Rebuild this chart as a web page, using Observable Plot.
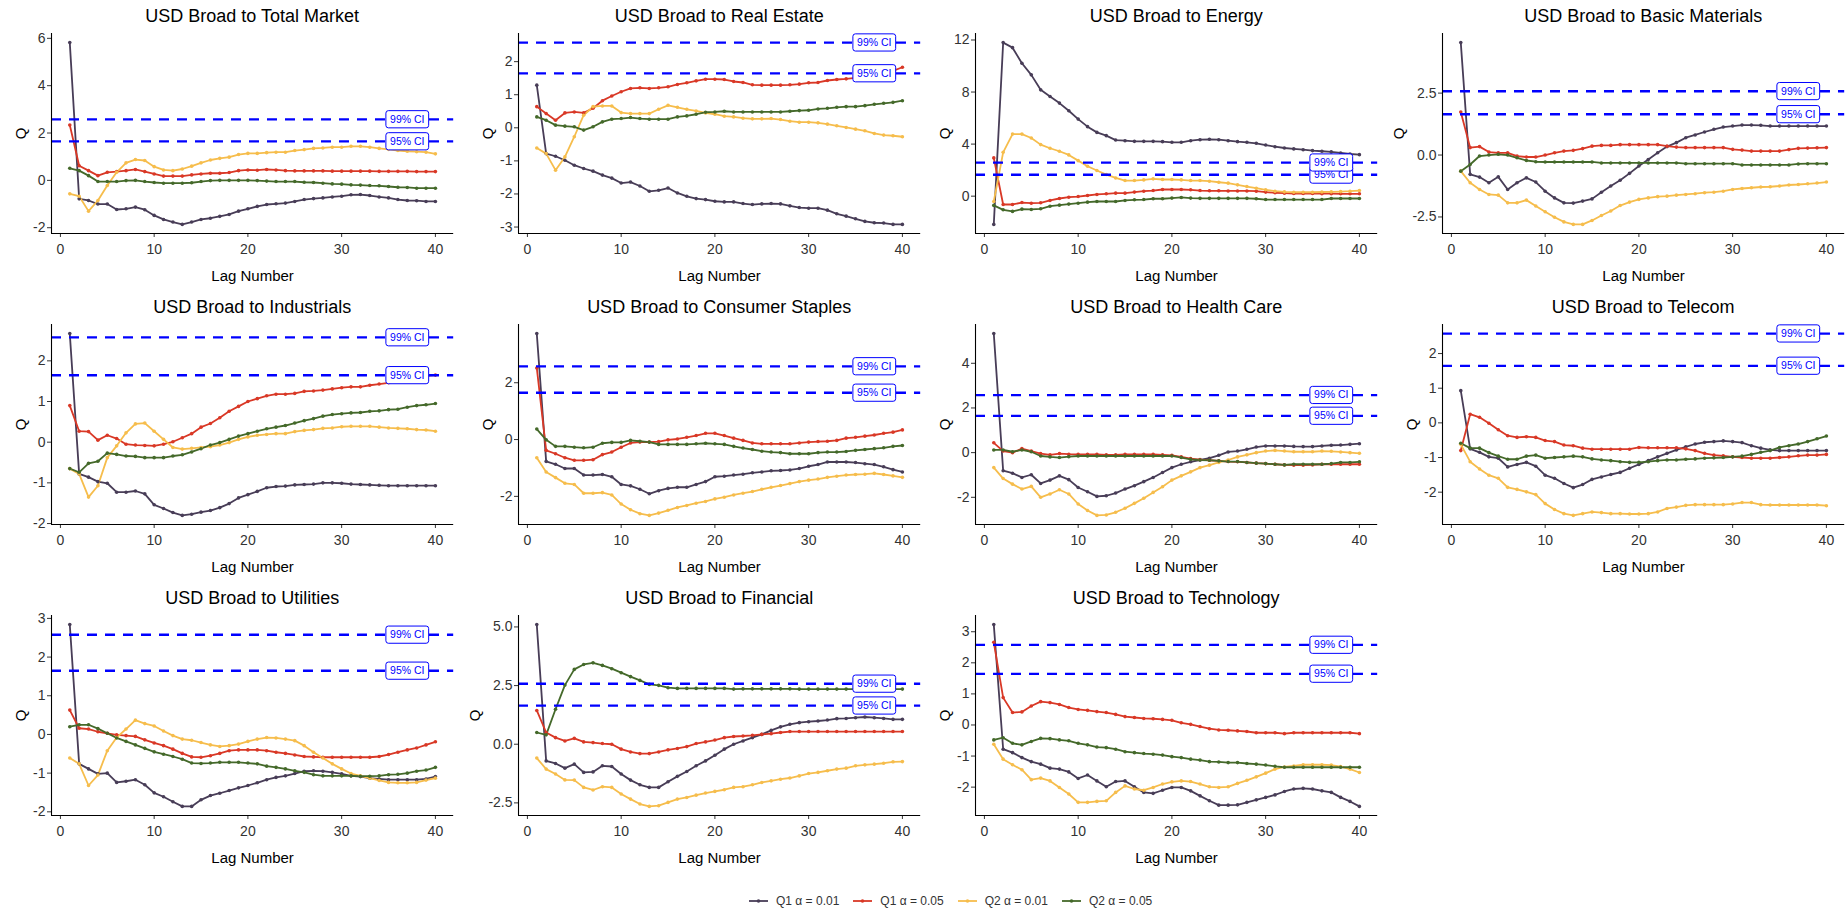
<!DOCTYPE html>
<html><head><meta charset="utf-8">
<script src="https://cdn.jsdelivr.net/npm/d3@7"></script>
<script src="https://cdn.jsdelivr.net/npm/@observablehq/plot@0.6"></script>
<style>
body{margin:0;width:1848px;height:909px;overflow:hidden;background:#fff;font-family:"Liberation Sans",Arial,sans-serif;}
#root{position:relative;width:1848px;height:909px;}
.panel{position:absolute;overflow:visible;}
.ptitle{position:absolute;font-size:18px;line-height:18px;color:#000;white-space:nowrap;transform:translateX(-50%);}
</style></head><body><div id="root"></div>
<script>
// ---------------- data ----------------
const lags = [1,2,3,4,5,6,7,8,9,10,11,12,13,14,15,16,17,18,19,20,21,22,23,24,25,26,27,28,29,30,31,32,33,34,35,36,37,38,39,40];
const seriesNames = ["Q1 α = 0.01","Q1 α = 0.05","Q2 α = 0.01","Q2 α = 0.05"];
const seriesColors = ["#483D57","#D93826","#F6BD4C","#44692A"];
const ciValues = [1.645, 2.576];
const ciLabels = ["95% CI","99% CI"];
const ciLabelLag = 37;
const xTicks = [0,10,20,30,40];
const panelTitles = ["USD Broad to Total Market","USD Broad to Real Estate","USD Broad to Energy","USD Broad to Basic Materials","USD Broad to Industrials","USD Broad to Consumer Staples","USD Broad to Health Care","USD Broad to Telecom","USD Broad to Utilities","USD Broad to Financial","USD Broad to Technology"];

const yTicksTotalMarket = [-2,0,2,4,6];
const yTicksRealEstate = [-3,-2,-1,0,1,2];
const yTicksEnergy = [0,4,8,12];
const yTicksBasicMaterials = [-2.5,0,2.5];
const yTicksIndustrials = [-2,-1,0,1,2];
const yTicksConsumerStaples = [-2,0,2];
const yTicksHealthCare = [-2,0,2,4];
const yTicksTelecom = [-2,-1,0,1,2];
const yTicksUtilities = [-2,-1,0,1,2,3];
const yTicksFinancial = [-2.5,0,2.5,5];
const yTicksTechnology = [-2,-1,0,1,2,3];

const totalMarketQ1a01 = [5.82,-0.78,-0.85,-1.0,-1.0,-1.23,-1.2,-1.13,-1.24,-1.48,-1.65,-1.76,-1.86,-1.76,-1.65,-1.6,-1.52,-1.44,-1.3,-1.2,-1.1,-1.02,-0.99,-0.96,-0.89,-0.81,-0.77,-0.74,-0.7,-0.67,-0.61,-0.6,-0.64,-0.7,-0.74,-0.81,-0.85,-0.86,-0.89,-0.89];
const totalMarketQ1a05 = [2.34,0.62,0.41,0.2,0.34,0.37,0.41,0.46,0.37,0.27,0.18,0.18,0.18,0.23,0.27,0.3,0.3,0.33,0.41,0.44,0.43,0.46,0.44,0.41,0.4,0.4,0.4,0.4,0.39,0.39,0.39,0.39,0.39,0.38,0.38,0.38,0.38,0.37,0.37,0.37];
const totalMarketQ2a01 = [-0.57,-0.67,-1.3,-0.85,-0.22,0.34,0.74,0.88,0.84,0.58,0.44,0.41,0.48,0.6,0.74,0.86,0.93,0.98,1.09,1.14,1.14,1.17,1.19,1.19,1.26,1.3,1.35,1.37,1.4,1.4,1.44,1.44,1.4,1.35,1.31,1.26,1.23,1.21,1.19,1.12];
const totalMarketQ2a05 = [0.51,0.41,0.2,-0.05,-0.05,-0.05,-0.01,0,-0.05,-0.09,-0.12,-0.12,-0.12,-0.1,-0.05,-0.01,0,0,0,0,-0.01,-0.03,-0.05,-0.05,-0.05,-0.08,-0.09,-0.12,-0.15,-0.16,-0.19,-0.2,-0.22,-0.23,-0.26,-0.29,-0.3,-0.33,-0.33,-0.33];

const realEstateQ1a01 = [1.29,-0.78,-0.86,-0.98,-1.13,-1.23,-1.31,-1.43,-1.52,-1.67,-1.64,-1.76,-1.92,-1.89,-1.82,-1.97,-2.07,-2.14,-2.17,-2.22,-2.24,-2.24,-2.29,-2.32,-2.3,-2.29,-2.3,-2.36,-2.41,-2.43,-2.43,-2.49,-2.6,-2.67,-2.75,-2.83,-2.87,-2.88,-2.92,-2.92];
const realEstateQ1a05 = [0.64,0.43,0.23,0.45,0.48,0.45,0.59,0.82,0.96,1.09,1.19,1.21,1.19,1.21,1.24,1.31,1.36,1.42,1.47,1.47,1.46,1.4,1.37,1.3,1.29,1.29,1.29,1.3,1.32,1.36,1.37,1.43,1.46,1.48,1.51,1.56,1.6,1.65,1.72,1.83];
const realEstateQ2a01 = [-0.61,-0.78,-1.28,-0.88,-0.27,0.38,0.64,0.66,0.66,0.46,0.43,0.43,0.43,0.56,0.68,0.62,0.56,0.51,0.45,0.41,0.35,0.33,0.29,0.27,0.27,0.28,0.25,0.2,0.17,0.17,0.15,0.11,0.06,0.01,-0.04,-0.09,-0.17,-0.22,-0.24,-0.27];
const realEstateQ2a05 = [0.33,0.23,0.08,0.05,0.03,-0.07,0.03,0.18,0.26,0.28,0.31,0.28,0.26,0.26,0.26,0.33,0.36,0.41,0.47,0.48,0.5,0.48,0.48,0.48,0.48,0.48,0.48,0.5,0.52,0.53,0.57,0.59,0.62,0.64,0.64,0.67,0.71,0.74,0.77,0.82];

const energyQ1a01 = [-2.17,11.8,11.41,10.21,9.32,8.17,7.66,7.15,6.56,5.92,5.34,4.9,4.65,4.31,4.26,4.21,4.21,4.21,4.19,4.14,4.14,4.26,4.34,4.37,4.34,4.26,4.19,4.14,4.06,3.93,3.8,3.7,3.63,3.57,3.5,3.45,3.4,3.32,3.24,3.19];
const energyQ1a05 = [2.94,-0.64,-0.64,-0.49,-0.54,-0.51,-0.33,-0.18,-0.08,-0.03,0.05,0.13,0.18,0.23,0.23,0.31,0.38,0.43,0.51,0.51,0.51,0.49,0.43,0.41,0.41,0.4,0.4,0.4,0.38,0.31,0.26,0.23,0.2,0.2,0.2,0.19,0.19,0.18,0.18,0.18];
const energyQ2a01 = [-0.41,3.37,4.77,4.77,4.47,3.96,3.68,3.45,3.17,2.73,2.3,1.97,1.66,1.4,1.2,1.2,1.25,1.33,1.28,1.28,1.25,1.2,1.2,1.15,1.07,1.0,0.87,0.74,0.61,0.49,0.38,0.33,0.3,0.3,0.3,0.32,0.33,0.35,0.38,0.43];
const energyQ2a05 = [-0.71,-1.05,-1.17,-1.0,-1.02,-0.97,-0.77,-0.69,-0.61,-0.54,-0.46,-0.41,-0.41,-0.41,-0.33,-0.28,-0.26,-0.2,-0.2,-0.15,-0.1,-0.15,-0.17,-0.17,-0.17,-0.17,-0.17,-0.17,-0.2,-0.26,-0.26,-0.26,-0.26,-0.26,-0.26,-0.26,-0.18,-0.18,-0.18,-0.18];

const basicMaterialsQ1a01 = [4.54,-0.78,-0.89,-1.12,-0.88,-1.39,-1.12,-0.92,-1.09,-1.46,-1.73,-1.93,-1.94,-1.86,-1.77,-1.5,-1.25,-1.02,-0.74,-0.44,-0.18,0.09,0.34,0.5,0.7,0.81,0.93,1.04,1.13,1.17,1.21,1.21,1.2,1.17,1.17,1.17,1.17,1.17,1.17,1.17];
const basicMaterialsQ1a05 = [1.74,0.3,0.34,0.12,0.09,0.09,-0.04,-0.08,-0.08,0,0.09,0.16,0.19,0.26,0.36,0.39,0.39,0.42,0.42,0.42,0.42,0.42,0.36,0.32,0.3,0.3,0.3,0.3,0.3,0.23,0.2,0.16,0.16,0.16,0.16,0.22,0.27,0.28,0.29,0.3];
const basicMaterialsQ2a01 = [-0.65,-1.12,-1.39,-1.59,-1.62,-1.93,-1.93,-1.82,-2.06,-2.29,-2.51,-2.7,-2.8,-2.8,-2.64,-2.44,-2.26,-2.04,-1.9,-1.79,-1.73,-1.68,-1.66,-1.62,-1.59,-1.56,-1.52,-1.5,-1.46,-1.39,-1.35,-1.32,-1.29,-1.28,-1.25,-1.21,-1.19,-1.16,-1.13,-1.09];
const basicMaterialsQ2a05 = [-0.65,-0.38,-0.04,0,0.03,0,-0.11,-0.22,-0.27,-0.28,-0.28,-0.28,-0.28,-0.28,-0.28,-0.32,-0.32,-0.32,-0.32,-0.32,-0.32,-0.32,-0.32,-0.32,-0.35,-0.35,-0.35,-0.35,-0.35,-0.35,-0.4,-0.4,-0.4,-0.4,-0.4,-0.4,-0.36,-0.35,-0.35,-0.35];

const industrialsQ1a01 = [2.67,-0.78,-0.86,-0.97,-1.01,-1.23,-1.23,-1.2,-1.27,-1.54,-1.63,-1.73,-1.8,-1.77,-1.72,-1.68,-1.61,-1.51,-1.37,-1.29,-1.21,-1.12,-1.09,-1.08,-1.05,-1.04,-1.03,-1.0,-1.0,-1.01,-1.03,-1.04,-1.05,-1.06,-1.07,-1.07,-1.07,-1.07,-1.07,-1.07];
const industrialsQ1a05 = [0.9,0.27,0.26,0.05,0.17,0.09,-0.05,-0.07,-0.08,-0.09,-0.05,0.01,0.11,0.21,0.37,0.46,0.6,0.76,0.88,1.0,1.07,1.14,1.18,1.18,1.2,1.25,1.26,1.28,1.31,1.34,1.36,1.36,1.4,1.43,1.46,1.51,1.55,1.59,1.63,1.65];
const industrialsQ2a01 = [-0.65,-0.78,-1.35,-1.07,-0.38,-0.09,0.23,0.45,0.47,0.27,0.07,-0.13,-0.17,-0.15,-0.13,-0.11,-0.07,-0.01,0.07,0.13,0.17,0.19,0.21,0.21,0.26,0.29,0.31,0.34,0.35,0.38,0.39,0.39,0.39,0.37,0.35,0.34,0.33,0.31,0.3,0.27];
const industrialsQ2a05 = [-0.65,-0.74,-0.52,-0.47,-0.27,-0.3,-0.34,-0.35,-0.38,-0.38,-0.38,-0.34,-0.31,-0.24,-0.16,-0.07,-0.01,0.07,0.15,0.21,0.27,0.33,0.37,0.41,0.47,0.53,0.58,0.64,0.68,0.7,0.72,0.73,0.76,0.77,0.8,0.81,0.86,0.9,0.92,0.95];

const consumerStaplesQ1a01 = [3.73,-0.77,-0.87,-1.02,-1.02,-1.25,-1.25,-1.23,-1.31,-1.58,-1.63,-1.75,-1.91,-1.8,-1.72,-1.68,-1.68,-1.58,-1.48,-1.31,-1.29,-1.25,-1.22,-1.17,-1.14,-1.1,-1.09,-1.07,-1.02,-0.94,-0.88,-0.79,-0.79,-0.79,-0.81,-0.85,-0.88,-0.96,-1.06,-1.14];
const consumerStaplesQ1a05 = [2.52,-0.38,-0.5,-0.64,-0.73,-0.73,-0.71,-0.53,-0.44,-0.27,-0.12,-0.09,-0.09,-0.07,-0.01,0.02,0.08,0.14,0.22,0.22,0.14,0.05,-0.03,-0.12,-0.15,-0.15,-0.15,-0.15,-0.12,-0.09,-0.07,-0.06,-0.03,0.05,0.08,0.12,0.16,0.22,0.26,0.34];
const consumerStaplesQ2a01 = [-0.64,-1.14,-1.34,-1.54,-1.58,-1.89,-1.89,-1.87,-1.95,-2.27,-2.47,-2.61,-2.67,-2.59,-2.49,-2.39,-2.32,-2.24,-2.18,-2.09,-2.03,-1.95,-1.89,-1.83,-1.75,-1.68,-1.62,-1.55,-1.48,-1.43,-1.39,-1.33,-1.29,-1.25,-1.23,-1.22,-1.19,-1.23,-1.28,-1.33];
const consumerStaplesQ2a05 = [0.37,-0.01,-0.24,-0.24,-0.27,-0.29,-0.27,-0.13,-0.1,-0.1,-0.03,-0.06,-0.09,-0.17,-0.17,-0.17,-0.17,-0.15,-0.13,-0.15,-0.17,-0.24,-0.3,-0.35,-0.41,-0.44,-0.46,-0.5,-0.5,-0.5,-0.46,-0.44,-0.44,-0.42,-0.38,-0.35,-0.32,-0.29,-0.24,-0.21];

const healthCareQ1a01 = [5.33,-0.81,-0.92,-1.11,-0.99,-1.38,-1.23,-1.04,-1.21,-1.56,-1.75,-1.96,-1.93,-1.81,-1.63,-1.48,-1.3,-1.11,-0.89,-0.67,-0.52,-0.41,-0.33,-0.25,-0.12,0.03,0.07,0.15,0.25,0.3,0.3,0.3,0.28,0.27,0.27,0.3,0.33,0.34,0.37,0.4];
const healthCareQ1a05 = [0.44,0.07,0,0.18,0.07,-0.04,-0.1,-0.04,-0.07,-0.08,-0.08,-0.08,-0.1,-0.1,-0.08,-0.08,-0.08,-0.08,-0.1,-0.12,-0.19,-0.27,-0.31,-0.34,-0.37,-0.4,-0.41,-0.44,-0.47,-0.49,-0.52,-0.55,-0.56,-0.56,-0.55,-0.52,-0.52,-0.52,-0.52,-0.52];
const healthCareQ2a01 = [-0.67,-1.16,-1.41,-1.63,-1.51,-2.0,-1.85,-1.66,-1.85,-2.3,-2.59,-2.81,-2.79,-2.67,-2.49,-2.27,-2.04,-1.78,-1.53,-1.23,-1.04,-0.86,-0.67,-0.56,-0.44,-0.33,-0.19,-0.1,0,0.07,0.1,0.07,0.04,0.04,0.04,0.07,0.06,0.03,0,-0.03];
const healthCareQ2a05 = [0.12,0.12,0.04,0.12,0.04,-0.15,-0.19,-0.22,-0.18,-0.15,-0.15,-0.15,-0.15,-0.15,-0.15,-0.15,-0.15,-0.15,-0.15,-0.15,-0.22,-0.3,-0.33,-0.34,-0.37,-0.4,-0.4,-0.44,-0.47,-0.49,-0.52,-0.55,-0.52,-0.52,-0.52,-0.52,-0.49,-0.44,-0.44,-0.41];

const telecomQ1a01 = [0.93,-0.75,-0.85,-0.98,-1.02,-1.27,-1.2,-1.14,-1.25,-1.51,-1.6,-1.75,-1.87,-1.78,-1.63,-1.56,-1.49,-1.43,-1.31,-1.2,-1.09,-0.98,-0.88,-0.78,-0.69,-0.61,-0.56,-0.54,-0.52,-0.54,-0.57,-0.66,-0.73,-0.78,-0.8,-0.8,-0.8,-0.8,-0.8,-0.8];
const telecomQ1a05 = [-0.8,0.25,0.16,-0.01,-0.2,-0.37,-0.42,-0.4,-0.42,-0.51,-0.54,-0.64,-0.66,-0.73,-0.76,-0.76,-0.76,-0.76,-0.76,-0.71,-0.72,-0.72,-0.72,-0.72,-0.75,-0.8,-0.88,-0.93,-0.95,-0.98,-1.0,-1.02,-1.02,-1.02,-1.0,-0.98,-0.95,-0.93,-0.93,-0.91];
const telecomQ2a01 = [-0.62,-1.12,-1.33,-1.51,-1.6,-1.86,-1.92,-1.99,-2.07,-2.33,-2.5,-2.62,-2.67,-2.62,-2.57,-2.59,-2.62,-2.62,-2.63,-2.63,-2.62,-2.57,-2.47,-2.43,-2.38,-2.36,-2.36,-2.36,-2.36,-2.34,-2.3,-2.3,-2.36,-2.37,-2.37,-2.37,-2.37,-2.37,-2.37,-2.39];
const telecomQ2a05 = [-0.59,-0.73,-0.73,-0.86,-0.96,-1.05,-1.05,-0.96,-0.93,-1.02,-1.0,-0.98,-0.96,-0.98,-1.04,-1.07,-1.09,-1.12,-1.14,-1.14,-1.12,-1.09,-1.07,-1.07,-1.05,-1.04,-1.02,-1.01,-1.0,-0.98,-0.96,-0.91,-0.85,-0.8,-0.71,-0.66,-0.61,-0.54,-0.46,-0.38];

const utilitiesQ1a01 = [2.84,-0.76,-0.89,-1.02,-1.0,-1.24,-1.21,-1.17,-1.3,-1.51,-1.61,-1.74,-1.86,-1.86,-1.69,-1.58,-1.52,-1.45,-1.38,-1.32,-1.25,-1.17,-1.11,-1.07,-1.01,-0.95,-0.94,-0.95,-0.98,-1.02,-1.07,-1.09,-1.13,-1.15,-1.17,-1.17,-1.17,-1.17,-1.15,-1.09];
const utilitiesQ1a05 = [0.63,0.16,0.14,0.07,0.03,-0.01,-0.03,-0.05,-0.14,-0.22,-0.29,-0.38,-0.49,-0.58,-0.59,-0.55,-0.49,-0.42,-0.4,-0.4,-0.4,-0.42,-0.46,-0.49,-0.53,-0.57,-0.58,-0.59,-0.59,-0.59,-0.59,-0.59,-0.59,-0.57,-0.52,-0.46,-0.4,-0.35,-0.27,-0.19];
const utilitiesQ2a01 = [-0.61,-0.76,-1.32,-1.05,-0.42,-0.08,0.14,0.37,0.28,0.22,0.09,-0.03,-0.12,-0.15,-0.21,-0.27,-0.31,-0.29,-0.25,-0.18,-0.12,-0.08,-0.09,-0.12,-0.16,-0.29,-0.46,-0.61,-0.76,-0.89,-1.01,-1.07,-1.13,-1.19,-1.24,-1.25,-1.25,-1.24,-1.18,-1.13];
const utilitiesQ2a05 = [0.2,0.25,0.25,0.15,0.03,-0.09,-0.18,-0.27,-0.36,-0.45,-0.51,-0.57,-0.64,-0.74,-0.75,-0.74,-0.72,-0.72,-0.72,-0.74,-0.76,-0.82,-0.85,-0.89,-0.94,-0.98,-1.04,-1.07,-1.07,-1.07,-1.07,-1.08,-1.08,-1.07,-1.04,-1.03,-1.0,-0.95,-0.92,-0.85];

const financialQ1a01 = [5.1,-0.71,-0.82,-1.02,-0.85,-1.2,-1.18,-0.92,-0.95,-1.27,-1.53,-1.73,-1.84,-1.84,-1.6,-1.37,-1.16,-0.92,-0.71,-0.47,-0.21,0,0.14,0.28,0.42,0.59,0.74,0.85,0.92,0.96,0.99,1.03,1.09,1.1,1.13,1.16,1.13,1.1,1.06,1.06];
const financialQ1a05 = [1.44,0.5,0.28,0.14,0.25,0.1,0.07,0.03,0,-0.21,-0.33,-0.4,-0.4,-0.33,-0.24,-0.18,-0.1,0.03,0.1,0.18,0.28,0.33,0.35,0.38,0.42,0.45,0.5,0.54,0.54,0.54,0.54,0.54,0.54,0.54,0.54,0.54,0.54,0.54,0.54,0.54];
const financialQ2a01 = [-0.59,-1.06,-1.27,-1.52,-1.53,-1.84,-1.95,-1.81,-1.84,-2.12,-2.34,-2.55,-2.65,-2.62,-2.48,-2.34,-2.27,-2.17,-2.08,-2.01,-1.94,-1.84,-1.81,-1.73,-1.63,-1.56,-1.49,-1.44,-1.35,-1.25,-1.2,-1.13,-1.06,-1.02,-0.92,-0.88,-0.85,-0.81,-0.75,-0.74];
const financialQ2a05 = [0.5,0.4,1.49,2.52,3.19,3.4,3.47,3.36,3.22,3.05,2.88,2.72,2.55,2.51,2.41,2.38,2.38,2.38,2.38,2.38,2.38,2.35,2.36,2.36,2.36,2.36,2.36,2.36,2.35,2.35,2.35,2.35,2.35,2.35,2.35,2.35,2.35,2.35,2.35,2.35];

const technologyQ1a01 = [3.23,-0.78,-0.89,-1.05,-1.18,-1.26,-1.39,-1.42,-1.51,-1.72,-1.61,-1.8,-1.99,-1.82,-1.8,-1.99,-2.17,-2.2,-2.1,-2.01,-2.01,-2.12,-2.28,-2.44,-2.58,-2.58,-2.57,-2.49,-2.41,-2.33,-2.25,-2.14,-2.06,-2.04,-2.06,-2.12,-2.17,-2.33,-2.46,-2.62];
const technologyQ1a05 = [2.66,0.88,0.4,0.42,0.61,0.75,0.72,0.66,0.56,0.5,0.47,0.43,0.4,0.34,0.27,0.24,0.21,0.2,0.18,0.15,0.07,0.02,-0.05,-0.12,-0.16,-0.17,-0.19,-0.21,-0.25,-0.25,-0.25,-0.28,-0.25,-0.25,-0.25,-0.25,-0.25,-0.25,-0.25,-0.28];
const technologyQ2a01 = [-0.62,-1.1,-1.28,-1.44,-1.76,-1.71,-1.8,-2.01,-2.22,-2.49,-2.49,-2.46,-2.44,-2.17,-1.96,-2.06,-2.1,-2.01,-1.9,-1.83,-1.8,-1.82,-1.9,-1.99,-2.01,-1.99,-1.88,-1.78,-1.67,-1.55,-1.42,-1.35,-1.32,-1.28,-1.28,-1.28,-1.29,-1.34,-1.42,-1.53];
const technologyQ2a05 = [-0.48,-0.41,-0.59,-0.64,-0.53,-0.43,-0.44,-0.48,-0.51,-0.59,-0.64,-0.71,-0.73,-0.78,-0.86,-0.89,-0.92,-0.94,-0.97,-1.02,-1.05,-1.1,-1.13,-1.18,-1.19,-1.21,-1.21,-1.24,-1.26,-1.29,-1.33,-1.36,-1.36,-1.36,-1.36,-1.36,-1.36,-1.36,-1.36,-1.36];

// ---------------- panel table ----------------
const panels = [
  {title: panelTitles[0], ticks: yTicksTotalMarket, series: [totalMarketQ1a01, totalMarketQ1a05, totalMarketQ2a01, totalMarketQ2a05]},
  {title: panelTitles[1], ticks: yTicksRealEstate, series: [realEstateQ1a01, realEstateQ1a05, realEstateQ2a01, realEstateQ2a05]},
  {title: panelTitles[2], ticks: yTicksEnergy, series: [energyQ1a01, energyQ1a05, energyQ2a01, energyQ2a05]},
  {title: panelTitles[3], ticks: yTicksBasicMaterials, series: [basicMaterialsQ1a01, basicMaterialsQ1a05, basicMaterialsQ2a01, basicMaterialsQ2a05]},
  {title: panelTitles[4], ticks: yTicksIndustrials, series: [industrialsQ1a01, industrialsQ1a05, industrialsQ2a01, industrialsQ2a05]},
  {title: panelTitles[5], ticks: yTicksConsumerStaples, series: [consumerStaplesQ1a01, consumerStaplesQ1a05, consumerStaplesQ2a01, consumerStaplesQ2a05]},
  {title: panelTitles[6], ticks: yTicksHealthCare, series: [healthCareQ1a01, healthCareQ1a05, healthCareQ2a01, healthCareQ2a05]},
  {title: panelTitles[7], ticks: yTicksTelecom, series: [telecomQ1a01, telecomQ1a05, telecomQ2a01, telecomQ2a05]},
  {title: panelTitles[8], ticks: yTicksUtilities, series: [utilitiesQ1a01, utilitiesQ1a05, utilitiesQ2a01, utilitiesQ2a05]},
  {title: panelTitles[9], ticks: yTicksFinancial, series: [financialQ1a01, financialQ1a05, financialQ2a01, financialQ2a05]},
  {title: panelTitles[10], ticks: yTicksTechnology, series: [technologyQ1a01, technologyQ1a05, technologyQ2a01, technologyQ2a05]}
];

// ---------------- layout ----------------
const FONT = '"Liberation Sans", Arial, sans-serif';
const colLeft = [51.1, 518.1, 975.1, 1442.1];
const rowTop = [33.3, 324.3, 615];
const PW = 402.2, PH = 200, ML = 62, MR = 6, MT = 12, MB = 56;
const root = document.getElementById("root");

panels.forEach((p, i) => {
  const col = i % 4, row = Math.floor(i / 4);
  const rows = [];
  p.series.forEach((vals, s) => vals.forEach((v, k) => rows.push({lag: lags[k], value: v, series: seriesNames[s]})));
  const [y0, y1] = d3.extent(rows.map(d => d.value).concat(ciValues));
  const yDom = [y0 - 0.05 * (y1 - y0), y1 + 0.05 * (y1 - y0)];
  const [x0, x1] = d3.extent(lags);
  const xDom = [x0 - 0.05 * (x1 - x0), x1 + 0.05 * (x1 - x0)];
  const decimals = p.ticks.some(t => !Number.isInteger(t));
  const fmt = t => decimals ? t.toFixed(1) : String(t);
  const maxLen = d3.max(p.ticks, t => fmt(t).length);
  const qOffset = 17 + 6.5 * maxLen;
  const labelRows = ciValues.map((v, j) => ({lag: ciLabelLag, value: v, label: ciLabels[j]}));

  const svg = Plot.plot({
    width: PW + ML + MR, height: PH + MT + MB,
    marginLeft: ML, marginRight: MR, marginTop: MT, marginBottom: MB,
    style: {fontFamily: FONT, fontSize: "14px", color: "#333", background: "transparent", overflow: "visible"},
    x: {domain: xDom, ticks: xTicks, tickSize: 4, tickPadding: 6.5, tickFormat: d => String(d), label: null},
    y: {domain: yDom, ticks: p.ticks, tickSize: 4, tickPadding: 2, tickFormat: fmt, label: null},
    color: {domain: seriesNames, range: seriesColors},
    marks: [
      Plot.line(rows, {x: "lag", y: "value", z: "series", stroke: "series", strokeWidth: 1.8}),
      Plot.dot(rows, {x: "lag", y: "value", fill: "series", r: 1.8}),
      Plot.ruleY(ciValues, {stroke: "blue", strokeWidth: 2.4, strokeDasharray: "10,8"}),
      Plot.text(labelRows, {x: "lag", y: "value", text: "label", fill: "blue", fontSize: 10.5, fontFamily: FONT}),
      Plot.ruleX([xDom[0]], {stroke: "#000", strokeWidth: 1.1}),
      Plot.ruleY([yDom[0]], {stroke: "#000", strokeWidth: 1.1}),
      Plot.text(["Lag Number"], {text: d => d, frameAnchor: "bottom", textAnchor: "middle", lineAnchor: "middle", dy: 43, fontSize: 15, fill: "#000", fontFamily: FONT}),
      Plot.text(["Q"], {text: d => d, frameAnchor: "left", textAnchor: "middle", lineAnchor: "middle", dx: -qOffset, rotate: -90, fontSize: 15, fill: "#000", fontFamily: FONT})
    ]
  });
  svg.classList.add("panel");
  svg.style.left = (colLeft[col] - ML) + "px";
  svg.style.top = (rowTop[row] - MT) + "px";
  root.appendChild(svg);

  // label boxes behind the CI texts
  Array.from(svg.querySelectorAll("text"))
    .filter(t => ciLabels.includes(t.textContent.trim()))
    .forEach(t => {
      const b = t.getBBox();
      const r = document.createElementNS("http://www.w3.org/2000/svg", "rect");
      r.setAttribute("x", b.x - 4.2);
      r.setAttribute("y", b.y - 3.1);
      r.setAttribute("width", b.width + 8.4);
      r.setAttribute("height", b.height + 6.2);
      r.setAttribute("rx", 2.5);
      r.setAttribute("fill", "white");
      r.setAttribute("stroke", "blue");
      r.setAttribute("stroke-width", 1);
      if (t.getAttribute("transform")) r.setAttribute("transform", t.getAttribute("transform"));
      t.parentNode.insertBefore(r, t);
    });

  const title = document.createElement("div");
  title.className = "ptitle";
  title.textContent = p.title;
  title.style.left = (colLeft[col] + PW / 2) + "px";
  title.style.top = (rowTop[row] - 25.9) + "px";
  root.appendChild(title);
});

// ---------------- legend ----------------
const legend = document.createElement("div");
legend.style.cssText = "position:absolute;left:749px;top:892px;height:18px;display:flex;align-items:center;font-size:12px;color:#333;white-space:nowrap;";
seriesNames.forEach((n, i) => {
  const ns = "http://www.w3.org/2000/svg";
  const k = document.createElementNS(ns, "svg");
  k.setAttribute("width", 19); k.setAttribute("height", 10);
  const l = document.createElementNS(ns, "line");
  l.setAttribute("x1", 0); l.setAttribute("x2", 19); l.setAttribute("y1", 5); l.setAttribute("y2", 5);
  l.setAttribute("stroke", seriesColors[i]); l.setAttribute("stroke-width", 1.8);
  const c = document.createElementNS(ns, "circle");
  c.setAttribute("cx", 9.5); c.setAttribute("cy", 5); c.setAttribute("r", 1.8); c.setAttribute("fill", seriesColors[i]);
  k.appendChild(l); k.appendChild(c);
  const s = document.createElement("span");
  s.textContent = n;
  s.style.marginLeft = "8px";
  s.style.marginRight = i < seriesNames.length - 1 ? "14px" : "0";
  legend.appendChild(k); legend.appendChild(s);
});
root.appendChild(legend);
</script></body></html>
